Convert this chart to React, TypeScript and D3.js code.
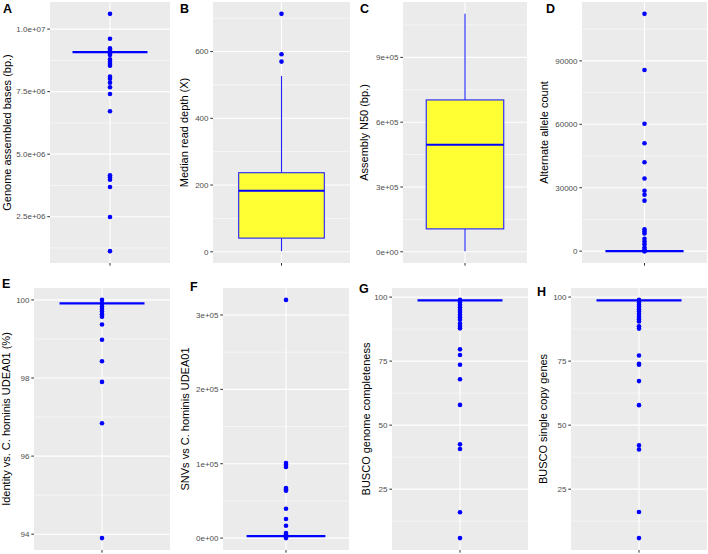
import React from "react";
import * as d3 from "d3";

const W = 708;
const H = 554;

// ---------- data ----------
const aPoints = [10610000, 9614000, 9229000, 9163000, 9096000, 9030000, 8963000, 8790000, 8698000, 8605000, 8538000, 8100000, 8020000, 7860000, 7674000, 7408000, 6717000, 4152000, 4072000, 3980000, 3687000, 2490000, 1122000];
const aMedian = 9080000;

const bOutliers = [713, 592, 570];
const bStats = [2, 41, 183, 237, 527]; // lower, q1, median, q3, upper

const cStats = [3000, 106000, 496000, 703000, 1101500];

const dPoints = [112230, 85700, 60280, 51000, 42060, 34380, 28590, 26700, 23880, 10360, 9280, 8340, 5800, 4570, 3300, 1740, 800, 0, 0];
const dMedian = 0;

const ePoints = [100.0, 99.91, 99.83, 99.77, 99.7, 99.63, 99.57, 99.37, 98.98, 98.43, 97.9, 96.84, 93.9];
const eMedian = 99.91;

const fPoints = [320300, 100900, 98700, 95600, 67300, 65500, 63700, 39500, 25600, 16600, 6700, 4900, 3100, 1300, 0];
const fMedian = 2700;

const gPoints = [98.9, 97.9, 97.0, 96.0, 95.1, 94.2, 93.1, 92.1, 91.2, 89.7, 88.7, 87.8, 79.6, 77.4, 73.6, 67.9, 57.9, 42.5, 40.7, 16.0, 5.9];
const gMedian = 98.7;

const hPoints = [98.9, 97.9, 97.0, 96.2, 95.3, 94.4, 93.4, 92.3, 91.3, 90.5, 88.6, 87.7, 77.2, 74.0, 73.6, 67.2, 57.8, 42.1, 40.5, 16.1, 5.9];
const hMedian = 98.7;

const aTicks = [2.5e6, 5e6, 7.5e6, 1e7];
const aTickLabels = ["2.5e+06", "5.0e+06", "7.5e+06", "1.0e+07"];
const bTicks = [0, 200, 400, 600];
const bTickLabels = ["0", "200", "400", "600"];
const cTicks = [0, 3e5, 6e5, 9e5];
const cTickLabels = ["0e+00", "3e+05", "6e+05", "9e+05"];
const dTicks = [0, 30000, 60000, 90000];
const dTickLabels = ["0", "30000", "60000", "90000"];
const eTicks = [94, 96, 98, 100];
const eTickLabels = ["94", "96", "98", "100"];
const fTicks = [0, 1e5, 2e5, 3e5];
const fTickLabels = ["0e+00", "1e+05", "2e+05", "3e+05"];
const gTicks = [25, 50, 75, 100];
const gTickLabels = ["25", "50", "75", "100"];
const hTicks = [25, 50, 75, 100];
const hTickLabels = ["25", "50", "75", "100"];

const panelLetters = ["A", "B", "C", "D", "E", "F", "G", "H"];
const yTitles = [
  "Genome assembled bases (bp.)",
  "Median read depth (X)",
  "Assembly N50 (bp.)",
  "Alternate allele count",
  "Identity vs. C. hominis UDEA01 (%)",
  "SNVs vs C. hominis UDEA01",
  "BUSCO genome completeness",
  "BUSCO single copy genes",
];

// ---------- layout ----------
const FONT = "'Liberation Sans', Arial, Helvetica, sans-serif";
const BLUE = "#0000FF";
const YELLOW = "#FFFF33";

type PanelDef = {
  x0: number; x1: number; y0: number; y1: number;
  letterX: number; letterY: number; titleX: number;
  points: number[];
  median?: number;
  stats?: number[];
  ticks: number[];
  tickLabels: string[];
};

const panels: PanelDef[] = [
  { x0: 50, x1: 170, y0: 2, y1: 263, letterX: 3, letterY: 12.5, titleX: 10.5, points: aPoints, median: aMedian, ticks: aTicks, tickLabels: aTickLabels },
  { x0: 213, x1: 350, y0: 2, y1: 263, letterX: 180, letterY: 12.5, titleX: 188, points: bOutliers, stats: bStats, ticks: bTicks, tickLabels: bTickLabels },
  { x0: 403, x1: 527, y0: 2, y1: 263, letterX: 360, letterY: 12.5, titleX: 367.5, points: [], stats: cStats, ticks: cTicks, tickLabels: cTickLabels },
  { x0: 582, x1: 707, y0: 2, y1: 263, letterX: 546, letterY: 12.5, titleX: 547.5, points: dPoints, median: dMedian, ticks: dTicks, tickLabels: dTickLabels },
  { x0: 34, x1: 170, y0: 288, y1: 550, letterX: 2, letterY: 287.5, titleX: 10, points: ePoints, median: eMedian, ticks: eTicks, tickLabels: eTickLabels },
  { x0: 223, x1: 349, y0: 288, y1: 550, letterX: 190, letterY: 291, titleX: 189, points: fPoints, median: fMedian, ticks: fTicks, tickLabels: fTickLabels },
  { x0: 392, x1: 528, y0: 288, y1: 550, letterX: 359, letterY: 292.5, titleX: 369.5, points: gPoints, median: gMedian, ticks: gTicks, tickLabels: gTickLabels },
  { x0: 571, x1: 707, y0: 288, y1: 550, letterX: 537, letterY: 296, titleX: 547, points: hPoints, median: hMedian, ticks: hTicks, tickLabels: hTickLabels },
];

function Panel({ p, idx }: { p: PanelDef; idx: number }) {
  const vals = [...p.points, ...(p.stats ?? []), ...(p.median !== undefined ? [p.median] : [])];
  const [mn, mx] = d3.extent(vals) as [number, number];
  const pad = (mx - mn) * 0.05;
  const y = d3.scaleLinear().domain([mn - pad, mx + pad]).range([p.y1, p.y0]);
  // discrete x: one category, expanded by 0.6 on each side
  const x = d3.scaleLinear().domain([0.4, 1.6]).range([p.x0, p.x1]);
  const cx = x(1);
  const bx0 = x(1 - 0.375);
  const bx1 = x(1 + 0.375);

  const step = p.ticks[1] - p.ticks[0];
  const [d0, d1] = y.domain();
  const minor: number[] = [];
  for (let v = p.ticks[0] - step / 2; v <= d1; v += step) {
    if (v >= d0) minor.push(v);
  }

  const titleY = (p.y0 + p.y1) / 2;

  return (
    <g>
      <rect x={p.x0} y={p.y0} width={p.x1 - p.x0} height={p.y1 - p.y0} fill="#EBEBEB" />
      {minor.map((v, i) => (
        <line key={"mn" + i} x1={p.x0} x2={p.x1} y1={y(v)} y2={y(v)} stroke="#FFFFFF" strokeWidth={0.55} />
      ))}
      {p.ticks.map((v, i) => (
        <line key={"mj" + i} x1={p.x0} x2={p.x1} y1={y(v)} y2={y(v)} stroke="#FFFFFF" strokeWidth={1.1} />
      ))}
      <line x1={cx} x2={cx} y1={p.y0} y2={p.y1} stroke="#FFFFFF" strokeWidth={1.1} />

      {p.stats && (
        <g>
          <line x1={cx} x2={cx} y1={y(p.stats[4])} y2={y(p.stats[3])} stroke="#2020FF" strokeWidth={1.1} />
          <line x1={cx} x2={cx} y1={y(p.stats[1])} y2={y(p.stats[0])} stroke="#2020FF" strokeWidth={1.1} />
          <rect x={bx0} y={y(p.stats[3])} width={bx1 - bx0} height={y(p.stats[1]) - y(p.stats[3])} fill={YELLOW} stroke="#2020FF" strokeWidth={1.1} />
          <line x1={bx0} x2={bx1} y1={y(p.stats[2])} y2={y(p.stats[2])} stroke={BLUE} strokeWidth={2} />
        </g>
      )}
      {p.median !== undefined && (
        <line x1={bx0} x2={bx1} y1={y(p.median)} y2={y(p.median)} stroke={BLUE} strokeWidth={2.2} />
      )}
      {p.points.map((v, i) => (
        <circle key={"pt" + i} cx={cx} cy={y(v)} r={2.3} fill={BLUE} />
      ))}

      {/* y axis ticks */}
      {p.ticks.map((v, i) => (
        <g key={"tk" + i}>
          <line x1={p.x0 - 2.7} x2={p.x0} y1={y(v)} y2={y(v)} stroke="#333333" strokeWidth={1} />
          <text x={p.x0 - 4.5} y={y(v)} dy="0.35em" textAnchor="end" fontFamily={FONT} fontSize={8} fill="#4D4D4D">
            {p.tickLabels[i]}
          </text>
        </g>
      ))}
      {/* x axis tick */}
      <line x1={cx} x2={cx} y1={p.y1} y2={p.y1 + 2.7} stroke="#333333" strokeWidth={1} />

      <text transform={`translate(${p.titleX},${titleY}) rotate(-90)`} textAnchor="middle" fontFamily={FONT} fontSize={11} fill="#000000">
        {yTitles[idx]}
      </text>
      <text x={p.letterX} y={p.letterY} fontFamily={FONT} fontSize={12.5} fontWeight="bold" fill="#000000">
        {panelLetters[idx]}
      </text>
    </g>
  );
}

export default function App() {
  return (
    <svg width={W} height={H} viewBox={`0 0 ${W} ${H}`} style={{ position: "absolute", left: 0, top: 0, display: "block", background: "#FFFFFF" }}>
      <rect x={0} y={0} width={W} height={H} fill="#FFFFFF" />
      {panels.map((p, i) => (
        <Panel key={i} p={p} idx={i} />
      ))}
    </svg>
  );
}
